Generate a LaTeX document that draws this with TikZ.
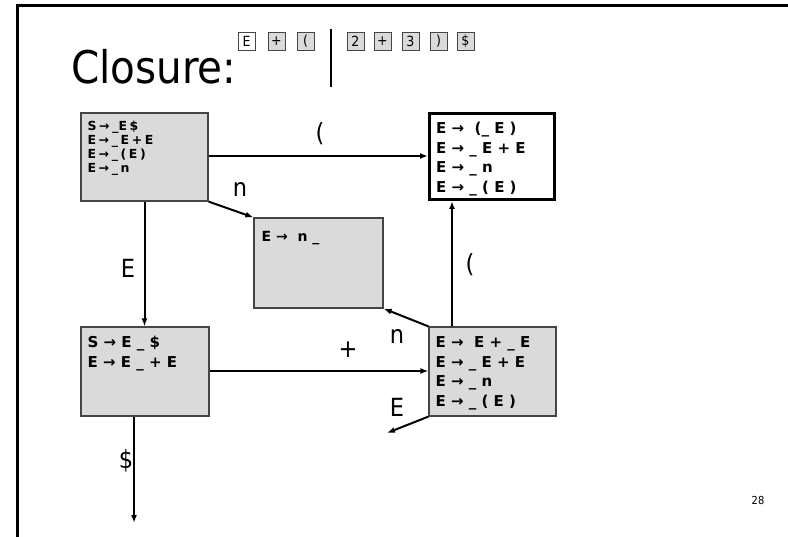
\documentclass[tikz,border=0pt]{standalone}
\usepackage{fontspec}
\setmainfont{DejaVu Sans Condensed}
\newfontfamily\statefont{DejaVu Sans}
\usetikzlibrary{arrows.meta}
\definecolor{boxgray}{HTML}{DADADA}
\definecolor{edgegray}{HTML}{454545}
\newcommand\tsp{\hspace{2.6pt}}
\tikzset{
  state/.style={draw=edgegray, line width=1.2pt, fill=boxgray, inner sep=0pt},
  statetext/.style={anchor=north west, align=left, inner sep=0pt, font=\statefont\fontsize{15}{19.5}\selectfont\bfseries},
  smalltext/.style={statetext, font=\statefont\fontsize{12.5}{14.2}\selectfont\bfseries},
  trans/.style={line width=2pt, -{Latex[length=8pt,width=6pt]}},
  lbl/.style={font=\fontsize{25}{28}\selectfont, inner sep=0pt},
  tok/.style={draw=edgegray, line width=0.8pt, fill=boxgray, minimum width=17pt, minimum height=18pt, inner sep=0pt, font=\fontsize{14}{16}\selectfont},
}
\begin{document}
\begin{tikzpicture}[x=1pt,y=-1pt]
\useasboundingbox (0,0) rectangle (788,537);
% slide frame
\draw[line width=3pt] (17,537) -- (17,6) -- (788,6);
% title
\node[anchor=base west, inner sep=0pt, font=\fontsize{45}{50}\selectfont] (title) at (71,84) {Closure:};
% tokens
\node[tok, fill=white] (t1) at (246.5,41.5) {E};
\node[tok] (t2) at (276.5,41.5) {+};
\node[tok] (t3) at (305.5,41.5) {(};
\node[tok] (t4) at (355.5,41.5) {2};
\node[tok] (t5) at (382.5,41.5) {+};
\node[tok] (t6) at (410.5,41.5) {3};
\node[tok] (t7) at (438.5,41.5) {)};
\node[tok] (t8) at (465.5,41.5) {\$};
\coordinate (bartop) at (331,29);
\coordinate (barbot) at (331,87);
\draw[line width=2.5pt] (bartop) -- (barbot);
% states
\node[state, minimum width=127pt, minimum height=88pt] (A) at (144.5,157) {};
\node[state, fill=white, draw=black, line width=3pt, minimum width=125pt, minimum height=86pt] (B) at (492,156.5) {};
\node[state, minimum width=129pt, minimum height=90pt] (C) at (318.5,263) {};
\node[state, minimum width=128pt, minimum height=89pt] (D) at (145,371.5) {};
\node[state, minimum width=127pt, minimum height=89pt] (E) at (492.5,371.5) {};
\node[smalltext] (At) at ([shift={(7,8)}]A.north west) {S\tsp→\tsp\_E\tsp\$\\E\tsp→\tsp\_\tsp E\tsp+\tsp E\\E\tsp→\tsp\_\tsp(\tsp E\tsp)\\E\tsp→\tsp\_\tsp n};
\node[statetext] (Bt) at ([shift={(8,10)}]B.north west) {E → \ (\_ E )\\E → \_ E + E\\E → \_ n\\E → \_ ( E )};
\node[statetext, font=\statefont\fontsize{14}{19}\selectfont\bfseries] (Ct) at ([shift={(8,14)}]C.north west) {E → \ n \_};
\node[statetext] (Dt) at ([shift={(7,10)}]D.north west) {S → E \_ \$\\E → E \_ + E};
\node[statetext] (Et) at ([shift={(7,10)}]E.north west) {E → \ E + \_ E\\E → \_ E + E\\E → \_ n\\E → \_ ( E )};
% transitions
\draw[trans] (A.east |- 0,156) -- (B.west |- 0,156);
\draw[trans] (A.south east) -- (C.north west);
\draw[trans] (A.south) -- (A.south |- D.north);
\draw[trans] (D.east |- 0,371) -- (E.west |- 0,371);
\draw[trans] (E.north -| 452,0) -- (B.south -| 452,0);
\draw[trans] (E.north west) -- (C.south east);
\coordinate (Eout) at (387,433);
\draw[trans] (E.south west) -- (Eout);
\coordinate (Dout) at (134,523);
\draw[trans] (D.south -| Dout) -- (Dout);
% labels
\node[lbl] (l1) at (320,134) {(};
\node[lbl] (l2) at (240,190) {n};
\node[lbl] (l3) at (128,268) {E};
\node[lbl] (l4) at (470,265) {(};
\node[lbl] (l5) at (397,337) {n};
\node[lbl] (l6) at (348,350) {+};
\node[lbl] (l7) at (397,407) {E};
\node[lbl] (l8) at (126,461) {\$};
\node[font=\fontsize{11}{13}\selectfont, inner sep=0pt] (pg) at (758,500) {28};
\end{tikzpicture}
\end{document}
